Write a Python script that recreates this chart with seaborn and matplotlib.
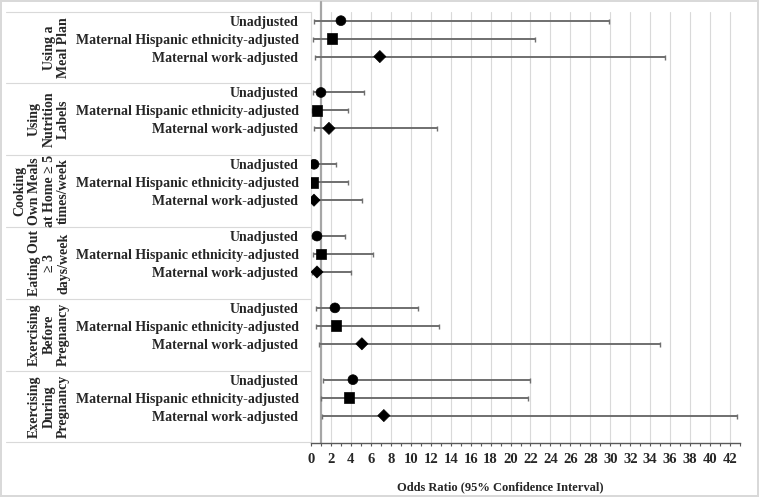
import pandas as pd
import numpy as np
import matplotlib
matplotlib.use("Agg")
import matplotlib.pyplot as plt
import seaborn as sns

# === data ===
groups = [
    "Using a\nMeal Plan",
    "Using\nNutrition\nLabels",
    "Cooking\nOwn Meals\nat Home ≥ 5\ntimes/week",
    "Eating Out\n≥ 3\ndays/week",
    "Exercising\nBefore\nPregnancy",
    "Exercising\nDuring\nPregnancy",
]
models = ["Unadjusted", "Maternal Hispanic ethnicity-adjusted", "Maternal work-adjusted"]

odds_ratio = [3.0, 2.1, 6.9,
              1.0, 0.6, 1.8,
              0.3, 0.2, 0.3,
              0.6, 1.0, 0.6,
              2.4, 2.5, 5.1,
              4.2, 3.8, 7.3]
ci_lower = [0.3, 0.2, 0.4,
            0.2, 0.1, 0.3,
            0.05, 0.05, 0.05,
            0.1, 0.2, 0.1,
            0.5, 0.5, 0.8,
            1.2, 1.0, 1.1]
ci_upper = [29.9, 22.5, 35.5,
            5.3, 3.7, 12.6,
            2.5, 3.7, 5.1,
            3.4, 6.2, 4.0,
            10.7, 12.8, 35.0,
            22.0, 21.8, 42.7]

# long table, 4 slots per group (3 rows + gap)
rows = []
for gi, g in enumerate(groups):
    for mi, m in enumerate(models):
        k = gi * 3 + mi
        rows.append({"group": g, "model": m, "pos": gi * 4 + mi + 0.5,
                     "OR": odds_ratio[k], "lo": ci_lower[k], "hi": ci_upper[k]})
df = pd.DataFrame(rows)

sns.set_style("white")
plt.rcParams["font.family"] = ["Liberation Serif", "DejaVu Serif"]
plt.rcParams["font.weight"] = "bold"

fig = plt.figure(figsize=(7.59, 4.97), dpi=100)
ax = fig.add_axes([311 / 759, 54.5 / 497, 429 / 759, 430.8 / 497])

# === CIs and points ===
ax.errorbar(df["OR"], df["pos"], xerr=[df["OR"] - df["lo"], df["hi"] - df["OR"]],
            fmt="none", ecolor="#6f6f6f", elinewidth=1.4, capsize=1.8, capthick=1.0, zorder=3)
sns.scatterplot(data=df, x="OR", y="pos", style="model",
                markers={models[0]: "o", models[1]: "s", models[2]: "D"},
                size="model", sizes={models[0]: 50, models[1]: 60, models[2]: 38},
                color="black", edgecolor="black", legend=False, ax=ax, zorder=4)

ax.set_xlim(0, 43)
ax.set_ylim(24, 0)
ax.set_xticks(np.arange(0, 43, 2))
ax.set_xticks(np.arange(0, 44, 1), minor=True)
ax.tick_params(axis="x", which="both", direction="out", length=2.5, width=0.8,
               color="#595959", labelsize=10.5, pad=5, bottom=True)
ax.grid(axis="x", which="major", color="#d9d9d9", linewidth=0.8)
ax.axvline(1, ymin=0, ymax=1.0225, color="#a6a6a6", linewidth=1.6, clip_on=False, zorder=2)

ax.set_yticks(df["pos"])
ax.set_yticklabels(df["model"], fontsize=10, fontweight="bold")
ax.tick_params(axis="y", length=0, pad=9)

for s in ["top", "right"]:
    ax.spines[s].set_visible(False)
ax.spines["left"].set_color("#d9d9d9")
ax.spines["left"].set_linewidth(0.8)
ax.spines["bottom"].set_color("#595959")
ax.spines["bottom"].set_linewidth(1.0)

# table lines on the left
x_left = (6 - 311) / 429
trans = ax.get_yaxis_transform()
for b in range(0, 25, 4):
    ax.plot([x_left, 0], [b, b], color="#d9d9d9", linewidth=0.8, transform=trans, clip_on=False)

# group labels
for gi, g in enumerate(groups):
    ax.text((70 - 311) / 429, gi * 4 + 2, g, transform=trans, rotation=90,
            ha="right", va="center", multialignment="center",
            fontsize=10, fontweight="bold", linespacing=1.15)

ax.set_xlabel("")
ax.set_ylabel("")
fig.text(500 / 759, 1 - 487 / 497, "Odds Ratio (95% Confidence Interval)",
         ha="center", va="center", fontsize=9, fontweight="bold")

fig.patch.set_edgecolor("#d9d9d9")
fig.patch.set_linewidth(1.5)

fig.savefig("out.png", dpi=100)
